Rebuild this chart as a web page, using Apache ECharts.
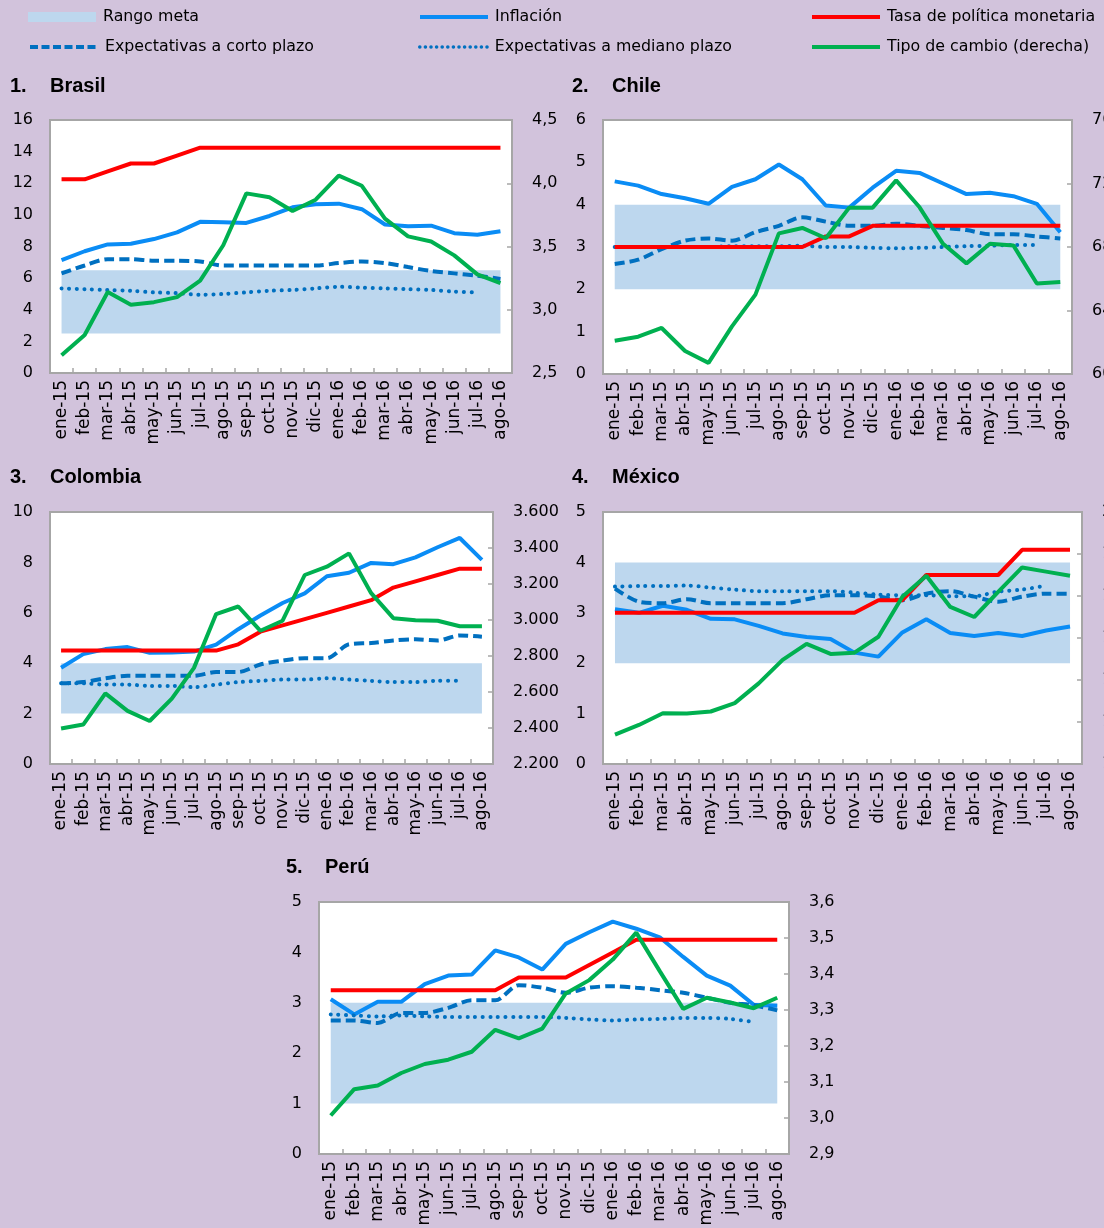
<!DOCTYPE html>
<html>
<head>
<meta charset="utf-8">
<script src="https://cdn.jsdelivr.net/npm/echarts@6/dist/echarts.min.js"></script>
<style>
html,body{margin:0;padding:0;background:#d2c3dc;overflow:hidden;}
#main{width:1104px;height:1228px;}
</style>
</head>
<body>
<div id="main"></div>
<script>
var meses = ['ene-15','feb-15','mar-15','abr-15','may-15','jun-15','jul-15','ago-15','sep-15','oct-15','nov-15','dic-15',
	'ene-16','feb-16','mar-16','abr-16','may-16','jun-16','jul-16','ago-16'];

// Brasil
var brasilInflacion = [7.14,7.70,8.13,8.17,8.47,8.89,9.56,9.53,9.49,9.93,10.48,10.67,10.71,10.36,9.39,9.28,9.32,8.84,8.74,8.97];
var brasilCorto = [6.3,6.8,7.2,7.2,7.1,7.1,7.05,6.8,6.8,6.8,6.8,6.8,6.95,7.05,6.95,6.7,6.45,6.3,6.15,5.95];
var brasilMediano = [5.35,5.3,5.25,5.2,5.1,5.05,4.95,5.0,5.1,5.2,5.25,5.35,5.45,5.4,5.35,5.3,5.25,5.15,5.1,null];
var brasilTasa = [12.25,12.25,12.75,13.25,13.25,13.75,14.25,14.25,14.25,14.25,14.25,14.25,14.25,14.25,14.25,14.25,14.25,14.25,14.25,14.25];
var brasilCambio = [2.64,2.80,3.14,3.04,3.06,3.10,3.23,3.51,3.92,3.89,3.78,3.87,4.06,3.98,3.72,3.58,3.54,3.43,3.28,3.21];
var brasilMeta = [2.5,6.5];

// Chile
var chileInflacion = [4.55,4.45,4.25,4.15,4.02,4.42,4.6,4.95,4.6,3.98,3.93,4.4,4.8,4.75,4.5,4.25,4.28,4.2,4.02,3.35];
var chileCorto = [2.6,2.7,2.95,3.15,3.2,3.15,3.35,3.5,3.7,3.6,3.5,3.5,3.55,3.5,3.45,3.4,3.3,3.3,3.25,3.2];
var chileMediano = [3.0,3.0,3.0,3.0,3.0,3.02,3.02,3.02,3.03,3.0,3.0,2.98,2.97,2.98,3.0,3.02,3.03,3.05,3.05,null];
var chileTasa = [3,3,3,3,3,3,3,3,3,3.25,3.25,3.5,3.5,3.5,3.5,3.5,3.5,3.5,3.5,3.5];
var chileCambio = [621,623.5,629,614.5,607,630,650,688.6,692,685.5,704.8,704.8,722,705,682,669.7,682,681,657,658];
var chileMeta = [2,4];

// Colombia
var colombiaInflacion = [3.82,4.36,4.56,4.64,4.41,4.42,4.46,4.74,5.35,5.89,6.39,6.77,7.45,7.59,7.98,7.93,8.20,8.60,8.97,8.10];
var colombiaCorto = [3.2,3.25,3.4,3.5,3.5,3.5,3.5,3.65,3.65,3.95,4.1,4.2,4.2,4.75,4.8,4.9,4.95,4.9,5.1,5.05];
var colombiaMediano = [3.2,3.2,3.15,3.15,3.1,3.1,3.05,3.15,3.25,3.3,3.35,3.35,3.4,3.35,3.3,3.25,3.25,3.3,3.3,null];
var colombiaTasa = [4.5,4.5,4.5,4.5,4.5,4.5,4.5,4.5,4.75,5.25,5.5,5.75,6.0,6.25,6.5,7.0,7.25,7.5,7.75,7.75];
var colombiaCambio = [2397,2419,2592,2495,2439,2563,2734,3033,3075,2940,2996,3250,3296,3370,3149,3010,2998,2996,2965,2965];
var colombiaMeta = [2,4];

// México
var mexicoInflacion = [3.07,3.00,3.14,3.06,2.88,2.87,2.74,2.59,2.52,2.48,2.21,2.13,2.61,2.87,2.60,2.54,2.60,2.54,2.65,2.73];
var mexicoCorto = [3.48,3.22,3.19,3.27,3.19,3.19,3.19,3.19,3.27,3.35,3.35,3.32,3.25,3.38,3.43,3.32,3.22,3.32,3.38,3.38];
var mexicoMediano = [3.52,3.53,3.53,3.54,3.5,3.46,3.43,3.43,3.43,3.43,3.4,3.36,3.35,3.35,3.33,3.33,3.42,3.46,3.54,null];
var mexicoTasa = [3,3,3,3,3,3,3,3,3,3,3,3.25,3.25,3.75,3.75,3.75,3.75,4.25,4.25,4.25];
var mexicoCambio = [14.70,14.93,15.21,15.2,15.25,15.45,15.92,16.48,16.86,16.62,16.65,17.03,17.98,18.48,17.74,17.5,18.1,18.68,18.58,18.48];
var mexicoMeta = [2,4];

// Perú
var peruInflacion = [3.07,2.77,3.02,3.02,3.37,3.54,3.56,4.04,3.90,3.66,4.17,4.40,4.61,4.47,4.30,3.91,3.54,3.34,2.96,2.94];
var peruCorto = [2.65,2.65,2.6,2.8,2.8,2.9,3.05,3.05,3.35,3.3,3.2,3.3,3.33,3.3,3.25,3.2,3.1,3.0,2.95,2.85];
var peruMediano = [2.77,2.75,2.73,2.75,2.73,2.72,2.72,2.72,2.72,2.72,2.7,2.67,2.65,2.67,2.68,2.7,2.7,2.68,2.62,null];
var peruTasa = [3.25,3.25,3.25,3.25,3.25,3.25,3.25,3.25,3.5,3.5,3.5,3.75,4.0,4.25,4.25,4.25,4.25,4.25,4.25,4.25];
var peruCambio = [3.007,3.08,3.09,3.125,3.15,3.162,3.184,3.245,3.221,3.248,3.346,3.383,3.44,3.515,3.408,3.303,3.334,3.321,3.305,3.334];
var peruMeta = [1,3];

// ejes: [min, max, intervalo]
var brasilEjes = [[0,16,2],[2.5,4.5,0.5]];
var chileEjes = [[0,6,1],[600,760,40]];
var colombiaEjes = [[0,10,2],[2200,3600,200]];
var mexicoEjes = [[0,5,1],[14,20,1]];
var peruEjes = [[0,5,1],[2.9,3.6,0.1]];

function coma1(v){ return v.toFixed(1).replace('.', ','); }
function entero(v){ return String(Math.round(v)); }
function miles(v){ var s = String(Math.round(v)); return s.length > 3 ? s.slice(0, s.length-3) + '.' + s.slice(-3) : s; }

var paneles = [
	{num:'1.', nombre:'Brasil', inf:brasilInflacion, corto:brasilCorto, med:brasilMediano, tasa:brasilTasa, cambio:brasilCambio, meta:brasilMeta, ejes:brasilEjes, fmt:coma1,
	 caja:[50,120,462,253], tit:[10,50,76]},
	{num:'2.', nombre:'Chile', inf:chileInflacion, corto:chileCorto, med:chileMediano, tasa:chileTasa, cambio:chileCambio, meta:chileMeta, ejes:chileEjes, fmt:entero,
	 caja:[603,120,469,254], tit:[572,612,76]},
	{num:'3.', nombre:'Colombia', inf:colombiaInflacion, corto:colombiaCorto, med:colombiaMediano, tasa:colombiaTasa, cambio:colombiaCambio, meta:colombiaMeta, ejes:colombiaEjes, fmt:miles,
	 caja:[50,512,443,252], tit:[10,50,467]},
	{num:'4.', nombre:'México', inf:mexicoInflacion, corto:mexicoCorto, med:mexicoMediano, tasa:mexicoTasa, cambio:mexicoCambio, meta:mexicoMeta, ejes:mexicoEjes, fmt:entero,
	 caja:[603,512,479,252], tit:[572,612,467]},
	{num:'5.', nombre:'Perú', inf:peruInflacion, corto:peruCorto, med:peruMediano, tasa:peruTasa, cambio:peruCambio, meta:peruMeta, ejes:peruEjes, fmt:coma1,
	 caja:[319,902,470,252], tit:[286,325,857]}
];

var gris = '#a6a6a6';
var fuente = 'DejaVu Sans';
var fuenteTit = 'Liberation Sans Narrow, Liberation Sans';
var grid = [], xAxis = [], yAxis = [], series = [], title = [];

paneles.forEach(function(p, i){
	grid.push({left:p.caja[0], top:p.caja[1], width:p.caja[2], height:p.caja[3], show:true,
		backgroundColor:'#fff', borderColor:gris, borderWidth:2, containLabel:false, outerBoundsMode:'none'});
	title.push({text:p.num, left:p.tit[0], top:p.tit[2], padding:0, textStyle:{fontFamily:fuenteTit, fontWeight:'bold', fontSize:20, color:'#000'}});
	title.push({text:p.nombre, left:p.tit[1], top:p.tit[2], padding:0, textStyle:{fontFamily:fuenteTit, fontWeight:'bold', fontSize:20, color:'#000'}});
	xAxis.push({type:'category', gridIndex:i, data:meses, boundaryGap:true,
		axisLine:{lineStyle:{color:gris, width:2}},
		axisTick:{show:true, inside:true, length:5, interval:0, lineStyle:{color:gris, width:1.5}},
		axisLabel:{rotate:90, interval:0, fontSize:17, color:'#000', margin:7, fontFamily:fuente},
		splitLine:{show:false}});
	yAxis.push({type:'value', gridIndex:i, position:'left', min:p.ejes[0][0], max:p.ejes[0][1], interval:p.ejes[0][2],
		axisLine:{show:true, lineStyle:{color:gris, width:2}}, axisTick:{show:false},
		axisLabel:{fontSize:16, color:'#000', margin:17, fontFamily:fuente, formatter:entero},
		splitLine:{show:false}});
	yAxis.push({type:'value', gridIndex:i, position:'right', min:p.ejes[1][0], max:p.ejes[1][1], interval:p.ejes[1][2],
		axisLine:{show:true, lineStyle:{color:gris, width:2}},
		axisTick:{show:true, inside:true, length:5, lineStyle:{color:gris, width:1.5}},
		axisLabel:{fontSize:16, color:'#000', margin:20, fontFamily:fuente, formatter:p.fmt},
		splitLine:{show:false}});

	var base = meses.map(function(){ return p.meta[0]; });
	var ancho = meses.map(function(){ return p.meta[1] - p.meta[0]; });
	var comun = {type:'line', xAxisIndex:i, yAxisIndex:2*i, symbol:'none', silent:true};

	series.push(Object.assign({}, comun, {name:'base'+i, stack:'meta'+i, data:base, lineStyle:{opacity:0}, z:1}));
	series.push(Object.assign({}, comun, {name:'Rango meta', stack:'meta'+i, data:ancho, color:'#bdd7ee',
		lineStyle:{opacity:0, width:0}, areaStyle:{color:'#bdd7ee', opacity:1}, z:1}));
	series.push(Object.assign({}, comun, {name:'Inflación', data:p.inf, color:'#0a8cf5', lineStyle:{width:4}, z:3}));
	series.push(Object.assign({}, comun, {name:'Expectativas a corto plazo', data:p.corto, color:'#0070c0', smooth:0.3,
		lineStyle:{width:4, type:[10,5]}, z:4}));
	series.push(Object.assign({}, comun, {name:'Expectativas a mediano plazo', data:p.med, color:'#0070c0', smooth:0.3,
		lineStyle:{width:4, type:[0.1,7.5], cap:'round'}, z:4}));
	series.push(Object.assign({}, comun, {name:'Tasa de política monetaria', data:p.tasa, color:'#ff0000', lineStyle:{width:4}, z:5}));
	series.push(Object.assign({}, comun, {name:'Tipo de cambio (derecha)', yAxisIndex:2*i+1, data:p.cambio, color:'#00b050', lineStyle:{width:4}, z:6}));
});

// [nombre, left, top, icono, trazo]
var leyendas = [
	['Rango meta', 28, 9, 'rect', null],
	['Inflación', 418, 9, null, {width:4}],
	['Tasa de política monetaria', 810, 9, null, {width:4}],
	['Expectativas a corto plazo', 28, 39, null, {width:4, type:[8,3.5]}],
	['Expectativas a mediano plazo', 418, 39, null, {width:3.5, type:[0.1,5.5], cap:'round'}],
	['Tipo de cambio (derecha)', 810, 39, null, {width:4}]
];
var legend = leyendas.map(function(l){
	var item = {name:l[0]};
	if (l[3]) { item.icon = l[3]; }
	var ley = {data:[item], left:l[1], top:l[2], padding:0, itemWidth:68, itemHeight:10, itemGap:0, selectedMode:false,
		textStyle:{fontSize:15.8, color:'#000', fontFamily:fuente, padding:[0,0,0,2]}};
	if (l[4]) {
		ley.itemStyle = {opacity:0};
		ley.lineStyle = l[4];
	}
	return ley;
});

var myChart = echarts.init(document.getElementById('main'));
myChart.setOption({
	backgroundColor:'#d2c3dc',
	animation:false,
	title:title,
	legend:legend,
	grid:grid,
	xAxis:xAxis,
	yAxis:yAxis,
	series:series
});
</script>
</body>
</html>
